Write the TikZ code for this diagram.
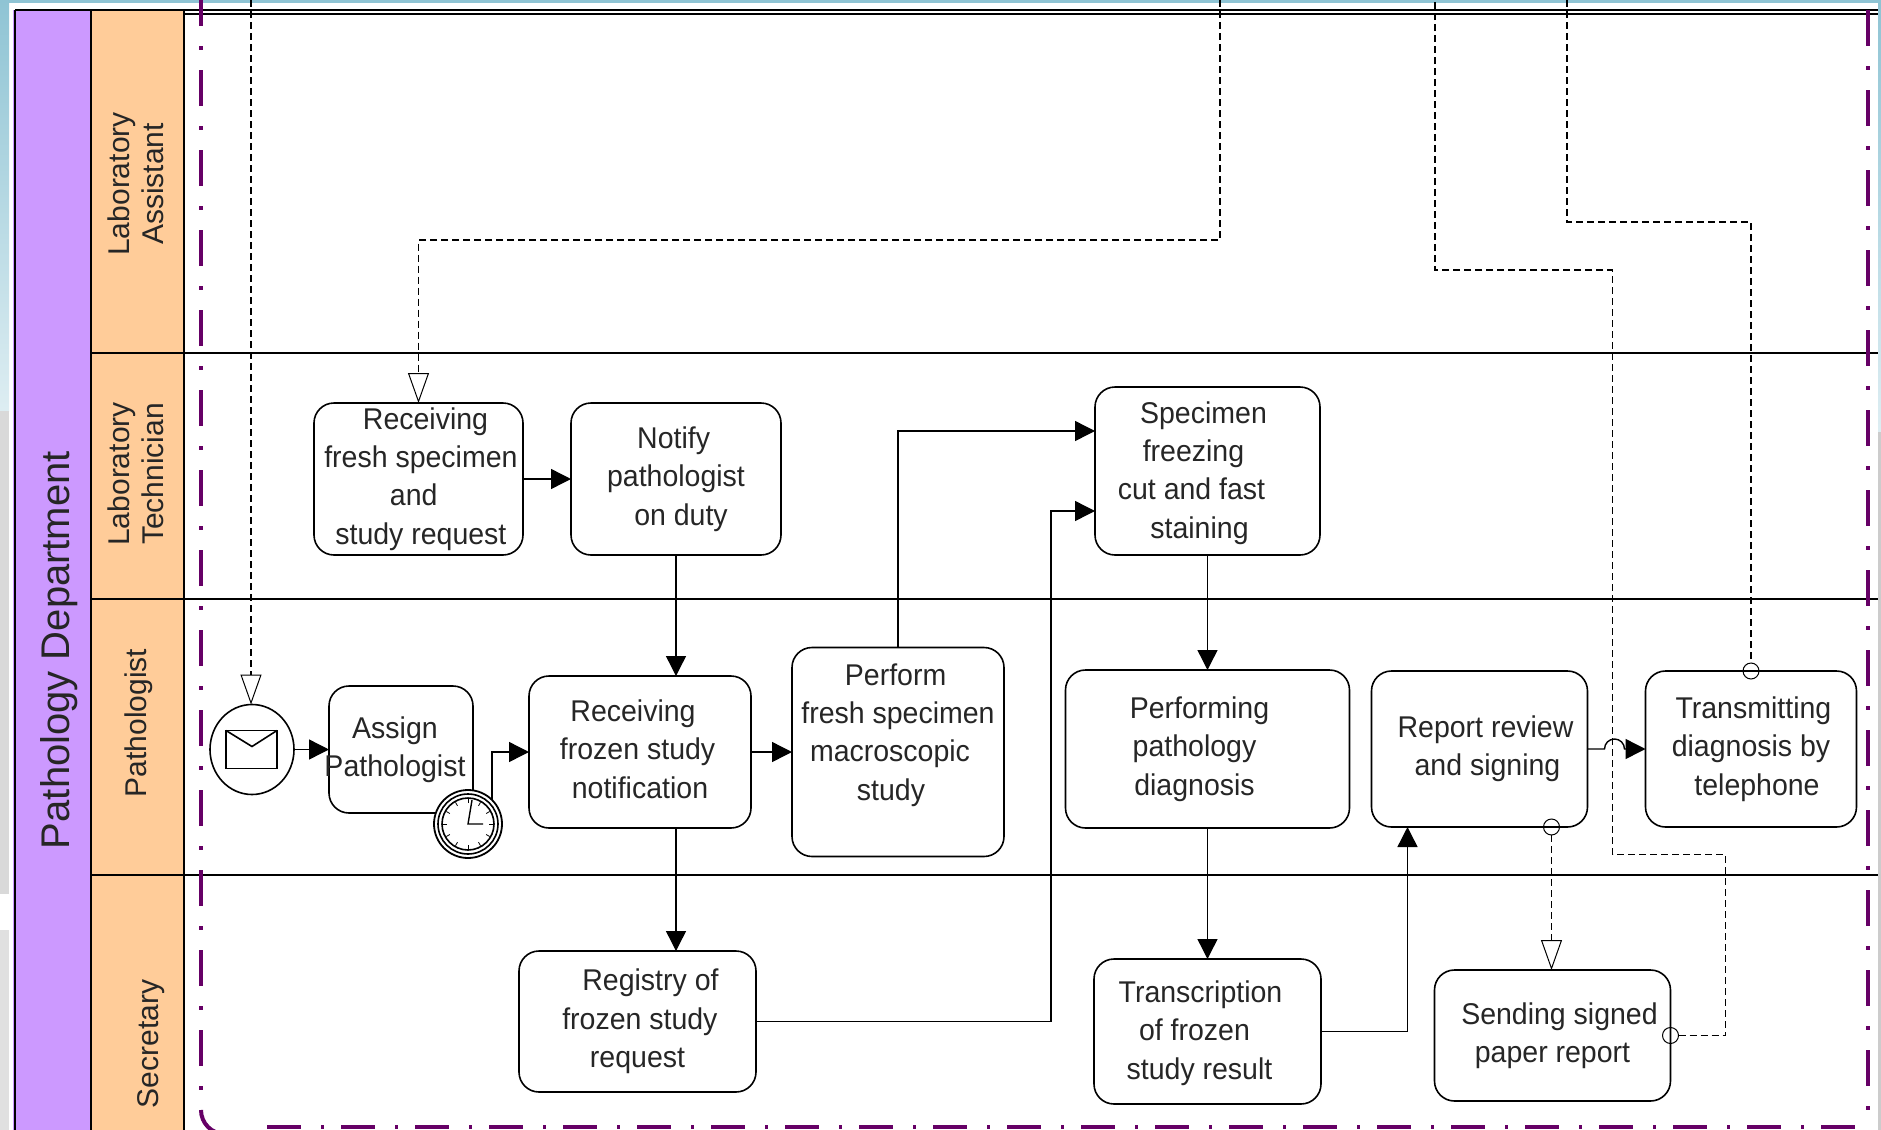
\documentclass[tikz,border=0pt]{standalone}
\usepackage{fontspec}
\setmainfont[FakeStretch=0.95]{Liberation Sans}
\newfontfamily\lanefont{Liberation Sans}
\usetikzlibrary{arrows.meta,positioning,shapes.geometric}
\definecolor{poolpurple}{HTML}{CC99FF}
\definecolor{laneorange}{HTML}{FFCC99}
\definecolor{bounddark}{HTML}{660066}
\definecolor{edgeblue}{HTML}{8FC4D4}
\tikzset{
    pathology/.style={
        x=0.5pt,y=-0.5pt,
        >={Triangle[length=10pt,width=10pt]},
        every node/.style={align=center,inner sep=0pt,outer sep=0pt},
    },
    task/.style 2 args={
        draw,rounded corners=10pt,line width=0.8pt,
        minimum width=#1*0.5pt,minimum height=#2*0.5pt,
        font=\fontsize{15}{19.2}\selectfont,text=black!85,
    },
    lanelabel/.style={
        rotate=90,font=\lanefont\fontsize{15}{17}\selectfont,text=black!85,
    },
    seqflow/.style={->,line width=0.7pt},
    msgflow/.style={
        -{Triangle[open,length=15pt,width=10.5pt,line width=0.5pt,fill=white]},
        dashed,dash pattern=on 3.5pt off 2pt,line width=0.6pt,
    },
    msgline/.style={dashed,dash pattern=on 3.5pt off 2pt,line width=0.6pt},
    msgdot/.style={circle,draw,line width=0.5pt,minimum size=8pt},
    bound/.style={
        draw=bounddark,line width=2pt,
        dash pattern=on 18pt off 10pt on 2pt off 10pt,
    },
    boundlow/.style={
        draw=bounddark,line width=2pt,
        dash pattern=on 17pt off 10pt on 1.5pt off 8.5pt,
    },
}
% one line of a task text, moved sideways
\newcommand{\tline}[2]{\hspace*{#1}#2}
\begin{document}
\begin{tikzpicture}[pathology]
    \useasboundingbox (0,0) rectangle (1881,1130);
    \fill[white] (0,0) rectangle (1881,1130);
    % window behind the slide
    \shade[top color=edgeblue,bottom color=edgeblue!30] (0,0) rectangle (9,411);
    \fill[black!15] (0,411) rectangle (9,894);
    \fill[black!12] (0,930) rectangle (9,1130);
    \fill[edgeblue] (0,0) rectangle (1881,3);
    \shade[top color=edgeblue,bottom color=edgeblue!30] (1878,3) rectangle (1881,432);
    \fill[black!20] (1878,432) rectangle (1881,1130);

    % pool and lanes
    \fill[poolpurple] (13,10) rectangle (91,1130);
    \fill[laneorange] (91,10) rectangle (184,1130);
    \draw[line width=0.7pt] (15,10) -- (1878,10) (184,14) -- (1878,14);
    \draw[line width=0.7pt] (15,10) -- (15,1130) (91,10) -- (91,1130) (184,10) -- (184,1130);
    \foreach \y in {353,599,875} {
        \draw[line width=0.7pt] (91,\y) -- (1878,\y);
    }
    \node[lanelabel,font=\lanefont\fontsize{20}{22}\selectfont] (pool) at (59,650) {Pathology Department};
    \node[lanelabel] (lab assistant) at (136,184) {Laboratory\\Assistant};
    \node[lanelabel] (lab technician) at (136,474) {Laboratory\\Technician};
    \node[lanelabel] (pathologist) at (139,723) {Pathologist};
    \node[lanelabel] (secretary) at (151,1044) {Secretary};

    % group boundary
    \draw[bound] (201,-10) -- (201,1106);
    \draw[bounddark,line width=2pt] (201,1110) arc[start angle=180,end angle=270,radius=12pt];
    \draw[boundlow] (267,1127) -- (1856,1127);
    \draw[bound] (1868,10) -- (1868,1110);

    % tasks
    \node[task={209}{152}] (recv) at (418.5,479) {\tline{7pt}{Receiving}\\\tline{2.4pt}{fresh specimen}\\\tline{-4.8pt}{and}\\\tline{2.4pt}{study request}};
    \node[task={210}{152},right=24pt of recv] (notify) {\tline{-2.4pt}{Notify}\\pathologist\\\tline{5pt}{on duty}};
    \node[task={222}{152},below=60.5pt of notify,xshift=-18pt] (froz) {\tline{-7pt}{Receiving}\\\tline{-2.4pt}{frozen study}\\notification\vspace{3pt}};
    \node[task={144}{127},left=28pt of froz,yshift=1.25pt] (assign) {\tline{-6pt}{Assign}\\\tline{-6pt}{Pathologist}};
    \node[ellipse,draw,line width=0.8pt,minimum width=42pt,minimum height=45pt,left=17.5pt of assign] (start) {};
    \node[task={212}{209},right=20.5pt of froz] (perform) {\tline{-2.4pt}{Perform}\\fresh specimen\\\tline{-8pt}{macroscopic}\\\tline{-7pt}{study}\vspace{17pt}};
    \node[task={225}{168},right=45.5pt of perform,yshift=140.5pt] (spec) {\tline{-4pt}{Specimen}\\\tline{-14pt}{freezing}\\\tline{-16pt}{cut and fast}\\\tline{-8pt}{staining}\vspace{-2pt}};
    \node[task={284}{158},below=57.5pt of spec] (diagnosis) {\tline{-8pt}{Performing}\\\tline{-13pt}{pathology}\\\tline{-13pt}{diagnosis}};
    \node[task={227}{145},below=65.5pt of diagnosis] (transcr) {\tline{-7pt}{Transcription}\\\tline{-13pt}{of frozen}\\\tline{-8pt}{study result}\vspace{-1.5pt}};
    \node[task={216}{156},right=11pt of diagnosis] (report) {\tline{6pt}{Report review}\\\tline{8pt}{and signing}};
    \node[task={211}{156},right=29pt of report] (transmit) {\tline{2.4pt}{Transmitting}\\diagnosis by\\\tline{6pt}{telephone}};
    \node[task={237}{141},below=61.5pt of froz,xshift=-1.25pt] (registry) {\tline{13pt}{Registry of}\\\tline{2.4pt}{frozen study}\\request};
    \node[task={236}{131},below=71.5pt of report,xshift=36.5pt] (sending) {\tline{7pt}{Sending signed}\\paper report};

    % start event envelope
    \draw[line width=0.8pt] ([xshift=-13pt,yshift=9.5pt]start.center) rectangle ([xshift=12.5pt,yshift=-9.5pt]start.center);
    \draw[line width=0.8pt] ([xshift=-13pt,yshift=9.5pt]start.center) -- ([yshift=1.5pt]start.center) -- ([xshift=12.5pt,yshift=9.5pt]start.center);

    % timer on the task border
    \node[circle,draw,fill=white,line width=0.9pt,minimum size=34pt] (timer) at ([xshift=-2.5pt,yshift=-5.5pt]assign.south east) {};
    \draw[line width=0.8pt] (timer.center) circle[radius=15pt] (timer.center) circle[radius=13pt];
    \foreach \a in {0,30,...,330} {
        \draw[line width=0.4pt] (timer.center) ++(\a:10.5pt) -- ++(\a:2pt);
    }
    \draw[line width=0.7pt] ([xshift=2pt,yshift=12pt]timer.center) -- (timer.center) -- ([xshift=7.5pt]timer.center);

    % free ends at the top
    \coordinate (from start) at (251,0);
    \coordinate (from recv) at (1220,0);
    \coordinate (to sending) at (1435,0);
    \coordinate (to transmit) at (1567,0);
    \coordinate (sending bend) at (1435,270);

    % small circles of the message flows
    \node[msgdot] (report out) at ([xshift=36pt]report.south) {};
    \node[msgdot] (sending out) at (sending.east) {};
    \node[msgdot] (transmit in) at (transmit.north) {};

    \path[seqflow]
        (start) edge (assign)
        (recv) edge (notify)
        (spec) edge (diagnosis)
        (diagnosis) edge (transcr)
    ;
    \draw[seqflow] (notify.south) -- (notify.south |- froz.north);
    \draw[seqflow] (froz.east) -- (froz.east -| perform.west);
    \draw[seqflow] (notify.south |- froz.south) -- (notify.south |- registry.north);
    \draw[seqflow] (timer.45) |- (froz.west);
    \draw[seqflow] (perform.north) |- ([yshift=20pt]spec.west);
    \draw[seqflow] (registry.east) -- ++(295,0) |- ([yshift=-20pt]spec.west);
    \draw[seqflow] (transcr.east) -| ([xshift=-36pt]report.south);
    \draw[seqflow] (report.east) -- ++(17,0) arc[start angle=180,end angle=0,radius=5pt] -- (transmit.west);

    \draw[msgflow] (from start) -- (from start |- start.north);
    \draw[msgflow] (from recv) |- (recv.north |- 0,240) -- (recv.north);
    \draw[msgflow] (report out) -- (report out |- sending.north);
    \draw[msgline] (to transmit) |- (transmit.north |- 0,222) -- (transmit in);
    \draw[msgline] (sending out) -- ++(55,0) -- ++(0,-181) -- ++(-113,0) |- (sending bend) -- (to sending);
\end{tikzpicture}
\end{document}
